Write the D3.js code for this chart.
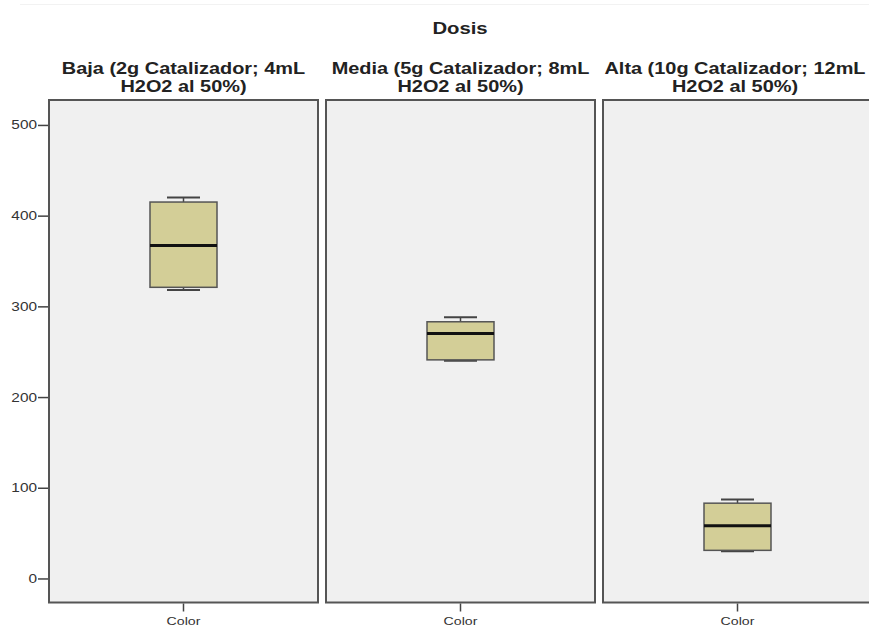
<!DOCTYPE html>
<html><head><meta charset="utf-8">
<script src="https://cdn.jsdelivr.net/npm/d3@7"></script>
<style>body{margin:0;background:#fff;} text{font-family:"Liberation Sans",Arial,sans-serif;}</style>
</head><body>
<svg id="chart" width="869" height="636"></svg>
<script>
const title = "Dosis";
const groups = ["Baja (2g Catalizador; 4mL|H2O2 al 50%)", "Media (5g Catalizador; 8mL|H2O2 al 50%)", "Alta (10g Catalizador; 12mL|H2O2 al 50%)"];
const variable = "Color";
const mins    = [318, 240, 30];
const q1s     = [321, 241, 31];
const medians = [367, 270, 58];
const q3s     = [415, 283, 83];
const maxs    = [420, 288, 87];
const yTicks  = [0, 100, 200, 300, 400, 500];
const yDomain = [-26.5, 527.5];

const svg = d3.select("#chart");
const plotTop = 100, plotBottom = 602.5;
const stretch = 1.23;
const y = d3.scaleLinear().domain(yDomain).range([plotBottom, plotTop]);
const panelX = d3.scaleBand().domain(groups).range([49, 872]).paddingInner(0.0289).paddingOuter(0);

function txt(sel, x, yy, s, size, weight, fill) {
  return sel.append("text").attr("transform", `translate(${x},${yy}) scale(${stretch},1)`)
    .attr("text-anchor","middle").attr("font-size",size).attr("font-weight",weight).attr("fill",fill).text(s);
}

svg.append("line").attr("x1",20).attr("x2",869).attr("y1",4.5).attr("y2",4.5).attr("stroke","#f2f2f2");

txt(svg, 460, 34, title, 16.5, "bold", "#222");

groups.forEach((g,i)=>{
  const x0 = panelX(g), w = panelX.bandwidth(), cx = x0 + w/2;
  const p = svg.append("g");
  p.append("rect").attr("x",x0).attr("y",plotTop).attr("width",w).attr("height",plotBottom-plotTop)
    .attr("fill","#f0f0f0").attr("stroke","#555").attr("stroke-width",2);
  g.split("|").forEach((l,j)=> txt(p, Math.min(cx, 735), 74 + j*17.5, l, 16.2, "bold", "#222"));
  const bw = 67, cw = 33;
  p.append("line").attr("x1",cx).attr("x2",cx).attr("y1",y(q3s[i])).attr("y2",y(maxs[i])).attr("stroke","#444").attr("stroke-width",1.5);
  p.append("line").attr("x1",cx).attr("x2",cx).attr("y1",y(q1s[i])).attr("y2",y(mins[i])).attr("stroke","#444").attr("stroke-width",1.5);
  p.append("line").attr("x1",cx-cw/2).attr("x2",cx+cw/2).attr("y1",y(maxs[i])).attr("y2",y(maxs[i])).attr("stroke","#444").attr("stroke-width",2);
  p.append("line").attr("x1",cx-cw/2).attr("x2",cx+cw/2).attr("y1",y(mins[i])).attr("y2",y(mins[i])).attr("stroke","#444").attr("stroke-width",2);
  p.append("rect").attr("x",cx-bw/2).attr("y",y(q3s[i])).attr("width",bw).attr("height",y(q1s[i])-y(q3s[i]))
    .attr("fill","#d3ce97").attr("stroke","#555").attr("stroke-width",1.5);
  p.append("line").attr("x1",cx-bw/2).attr("x2",cx+bw/2).attr("y1",y(medians[i])).attr("y2",y(medians[i])).attr("stroke","#111").attr("stroke-width",3);
  p.append("line").attr("x1",cx).attr("x2",cx).attr("y1",plotBottom+1).attr("y2",plotBottom+9).attr("stroke","#444").attr("stroke-width",1.5);
  txt(p, cx, 625, variable, 11.5, "normal", "#333");
});

const yAxis = d3.axisLeft(y).tickValues(yTicks).tickSize(10).tickPadding(1).tickFormat(d3.format("d"));
const ga = svg.append("g").attr("transform",`translate(${panelX(groups[0])-1},0)`).call(yAxis);
ga.select(".domain").remove();
ga.selectAll(".tick line").attr("stroke","#444").attr("stroke-width",1.5);
ga.selectAll(".tick text").attr("font-size",12.5).attr("fill","#333").attr("font-family","Liberation Sans, Arial, sans-serif")
  .attr("transform", function(){ const x = +d3.select(this).attr("x"); return `translate(${x},0) scale(${stretch},1)`; })
  .attr("x", 0);
</script>
</body></html>
